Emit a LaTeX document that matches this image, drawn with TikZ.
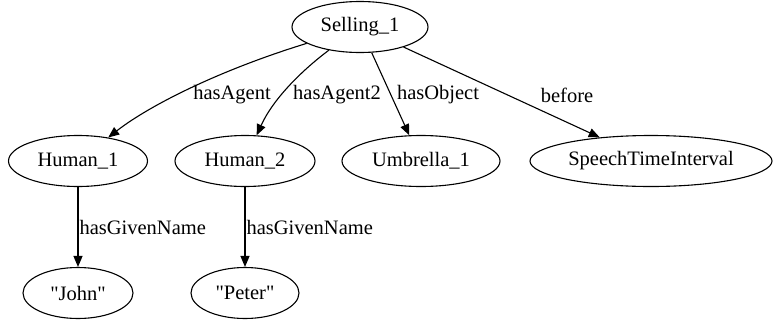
\documentclass[tikz,border=0pt]{standalone}
\usepackage{fontspec}
\setmainfont{Liberation Serif}
\usetikzlibrary{shapes.geometric, arrows.meta}

\begin{document}
\begin{tikzpicture}[x=1pt, y=-1pt, >={Triangle[length=11pt, width=9pt]}, line width=1.1pt,
    nodo/.style={ellipse, draw, inner sep=0pt, minimum height=51pt, font=\fontsize{20.5}{24}\selectfont},
    etiq/.style={inner sep=0pt, font=\fontsize{20.5}{24}\selectfont},
    arista/.style={->}]
  \useasboundingbox (0,0) rectangle (774,322);
  % Nodos
  \node[nodo, minimum width=136pt] (selling) at (360,27) {Selling\_1};
  \node[nodo, minimum width=139pt] (human1) at (78,161) {Human\_1};
  \node[nodo, minimum width=140pt] (human2) at (245,161) {Human\_2};
  \node[nodo, minimum width=158pt] (umbrella) at (421,161) {Umbrella\_1};
  \node[nodo, minimum width=242pt] (speech) at (651,161) {SpeechTimeInterval};
  \node[nodo, minimum width=110pt] (john) at (78,293) {\textquotedbl John\textquotedbl};
  \node[nodo, minimum width=108pt] (peter) at (245,293) {\textquotedbl Peter\textquotedbl};
  % Aristas
  \draw[arista] (selling) .. controls (220,70) and (150,105) .. (human1);
  \draw[arista] (selling) .. controls (305,68) and (274,97) .. (human2);
  \draw[arista] (selling) -- (umbrella);
  \draw[arista] (selling) -- (speech);
  \draw[arista] (human1) -- (john);
  \draw[arista] (human2) -- (peter);
  % Etiquetas
  \node[etiq] (lagent) at (232,95) {hasAgent};
  \node[etiq] (lagent2) at (337,95) {hasAgent2};
  \node[etiq] (lobject) at (438,95) {hasObject};
  \node[etiq] (lbefore) at (567,95) {before};
  \node[etiq, anchor=west] (lname1) at (79,227) {hasGivenName};
  \node[etiq, anchor=west] (lname2) at (246,227) {hasGivenName};
\end{tikzpicture}
\end{document}
